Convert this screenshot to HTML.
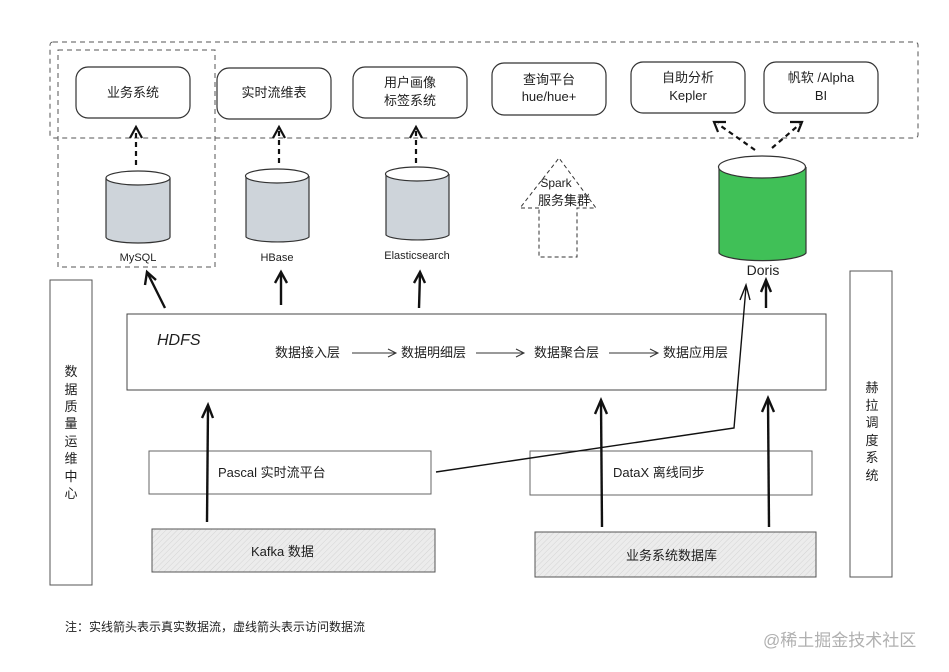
<!DOCTYPE html>
<html><head><meta charset="utf-8"><style>
html,body{margin:0;padding:0;background:#fff;}
svg{display:block;}
text{font-family:"Liberation Sans","Noto Sans CJK SC",sans-serif;fill:#1e1e1e;}
</style></head><body>
<svg width="949" height="672" viewBox="0 0 949 672" xmlns="http://www.w3.org/2000/svg">
<defs>
<pattern id="hatch" width="4" height="4" patternUnits="userSpaceOnUse" patternTransform="rotate(45)">
<rect width="4" height="4" fill="#ececec"/><line x1="0" y1="0" x2="0" y2="4" stroke="#d4d4d4" stroke-width="1"/>
</pattern>
</defs>
<g fill="none" stroke="#555" stroke-width="1" stroke-dasharray="5,4">
<rect x="50" y="42" width="868" height="96" rx="3"/>
<rect x="58" y="50" width="157" height="217"/>
</g>
<g fill="#fff" stroke="#333" stroke-width="1.2">
<rect x="76" y="67" width="114" height="51" rx="12"/>
<rect x="217" y="68" width="114" height="51" rx="12"/>
<rect x="353" y="67" width="114" height="51" rx="12"/>
<rect x="492" y="63" width="114" height="52" rx="12"/>
<rect x="631" y="62" width="114" height="51" rx="12"/>
<rect x="764" y="62" width="114" height="51" rx="12"/>
</g>
<g font-size="13" text-anchor="middle">
<text x="133" y="97">业务系统</text>
<text x="274" y="97">实时流维表</text>
<text x="410" y="87">用户画像</text><text x="410" y="105">标签系统</text>
<text x="549" y="84">查询平台</text><text x="549" y="101">hue/hue+</text>
<text x="688" y="82">自助分析</text><text x="688" y="100">Kepler</text>
<text x="821" y="82">帆软 /Alpha</text><text x="821" y="100">BI</text>
</g>
<g stroke="#333" stroke-width="1.2">
<path d="M106 178 V237 A32 6 0 0 0 170 237 V178" fill="#ced4da"/><ellipse cx="138" cy="178" rx="32" ry="7" fill="#fff"/>
<path d="M246 176 V237 A32 6 0 0 0 309 237 V176" fill="#ced4da"/><ellipse cx="277" cy="176" rx="31.5" ry="7" fill="#fff"/>
<path d="M386 174 V235 A32 6 0 0 0 449 235 V174" fill="#ced4da"/><ellipse cx="417" cy="174" rx="31.5" ry="7" fill="#fff"/>
<path d="M719 167 V253 A44 9 0 0 0 806 253 V167" fill="#40c057"/><ellipse cx="762" cy="167" rx="43.5" ry="11" fill="#fff"/>
</g>
<g font-size="11" text-anchor="middle">
<text x="138" y="261">MySQL</text><text x="277" y="261">HBase</text><text x="417" y="259">Elasticsearch</text>
<text x="763" y="275" font-size="14">Doris</text>
</g>
<g fill="none" stroke="#111" stroke-width="2.2">
<g stroke-dasharray="5,4"><line x1="136" y1="165" x2="136" y2="130"/><line x1="279" y1="163" x2="279" y2="130"/><line x1="416" y1="163" x2="416" y2="130"/>
<line x1="755" y1="150" x2="718" y2="124"/><line x1="772" y1="148" x2="800" y2="124"/></g>
<path d="M130 138 L136 127 L142 138 M273 138 L279 127 L285 138 M410 138 L416 127 L422 138 M718 132 L714 122 L726 122 M790 122 L802 122 L798 132"/>
</g>
<g fill="none" stroke="#333" stroke-width="1" stroke-dasharray="4,3">
<path d="M539 208 H520 L559 158 L596 208 H577 V257 H539 Z"/>
</g>
<text x="556" y="187" font-size="12" text-anchor="middle">Spark</text>
<text x="564" y="205" font-size="13" text-anchor="middle">服务集群</text>
<rect x="127" y="314" width="699" height="76" fill="#fff" stroke="#444" stroke-width="1"/>
<text x="157" y="345" font-size="16" font-style="italic">HDFS</text>
<g font-size="13"><text x="275" y="357">数据接入层</text><text x="401" y="357">数据明细层</text><text x="534" y="357">数据聚合层</text><text x="663" y="357">数据应用层</text></g>
<g fill="none" stroke="#333" stroke-width="1"><path d="M352 353 H396 M388 349 L396 353 L388 357 M476 353 H524 M516 349 L524 353 L516 357 M609 353 H658 M650 349 L658 353 L650 357"/></g>
<rect x="50" y="280" width="42" height="305" fill="#fff" stroke="#555"/>
<rect x="850" y="271" width="42" height="306" fill="#fff" stroke="#555"/>
<g font-size="13" text-anchor="middle"><text x="71" y="376">数</text><text x="71" y="394">据</text><text x="71" y="411">质</text><text x="71" y="428">量</text><text x="71" y="446">运</text><text x="71" y="463">维</text><text x="71" y="481">中</text><text x="71" y="498">心</text>
<text x="872" y="392">赫</text><text x="872" y="410">拉</text><text x="872" y="427">调</text><text x="872" y="445">度</text><text x="872" y="462">系</text><text x="872" y="480">统</text></g>
<rect x="149" y="451" width="282" height="43" fill="#fff" stroke="#666"/>
<rect x="530" y="451" width="282" height="44" fill="#fff" stroke="#666"/>
<rect x="152" y="529" width="283" height="43" fill="url(#hatch)" stroke="#555"/>
<rect x="535" y="532" width="281" height="45" fill="url(#hatch)" stroke="#555"/>
<g font-size="13"><text x="218" y="477">Pascal 实时流平台</text><text x="613" y="477">DataX 离线同步</text>
<text x="251" y="556">Kafka 数据</text><text x="626" y="560">业务系统数据库</text></g>
<g fill="none" stroke="#111" stroke-width="2.4">
<line x1="165" y1="308" x2="148" y2="274"/><path d="M145 285 L147 272 L156 280"/>
<line x1="281" y1="305" x2="281" y2="274"/><path d="M275 283 L281 272 L287 283"/>
<line x1="419" y1="308" x2="420" y2="274"/><path d="M414 283 L420 272 L425 283"/>
<line x1="766" y1="308" x2="766" y2="282"/><path d="M761 292 L766 280 L771 292"/>
<line x1="207" y1="522" x2="208" y2="407"/><path d="M202 418 L208 405 L213 418"/>
<line x1="602" y1="527" x2="601" y2="402"/><path d="M595 414 L601 400 L607 414"/>
<line x1="769" y1="527" x2="768" y2="400"/><path d="M762 412 L768 398 L774 412"/>
</g>
<g fill="none" stroke="#111" stroke-width="1.4">
<path d="M436 472 L734 428 L746 287"/><path d="M740 300 L746 285 L750 300"/>
</g>
<text x="65" y="631" font-size="12">注：实线箭头表示真实数据流，虚线箭头表示访问数据流</text>
<text x="763" y="646" font-size="17" style="fill:#b0b0b0">@稀土掘金技术社区</text>
</svg>
</body></html>
